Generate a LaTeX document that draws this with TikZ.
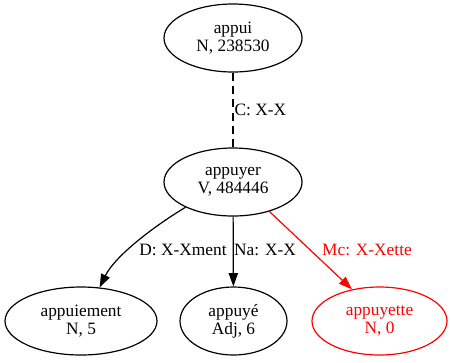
\documentclass[tikz,border=0pt]{standalone}
\usepackage{fontspec}
\setmainfont{Liberation Serif}
\usetikzlibrary{shapes.geometric,arrows.meta}
\tikzset{
	lex/.style={draw, ellipse, line width=0.9pt, inner sep=0pt, align=center,
		font=\fontsize{13}{13.5}\selectfont},
	rel/.style={line width=0.9pt, -{Triangle[length=10pt,width=7pt]}},
	lbl/.style={inner sep=1pt, font=\fontsize{13}{13.5}\selectfont}
}

\begin{document}
\begin{tikzpicture}[x=0.75pt, y=-0.75pt]
		%%%%% START %%%%%
		\useasboundingbox (0, 0) rectangle (452, 362);
		
		\node[lex, minimum width=138*0.75pt, minimum height=68*0.75pt] (appui) at (233, 38) {appui\\N, 238530};
		\node[lex, minimum width=138*0.75pt, minimum height=68*0.75pt] (appuyer) at (233, 182) {appuyer\\V, 484446};
		
		\node[lex, minimum width=152*0.75pt, minimum height=68*0.75pt] (appuiement) at (81, 321) {appuiement\\N, 5};
		\node[lex, minimum width=107*0.75pt, minimum height=68*0.75pt] (appuye) at (233.5, 321) {appuyé\\Adj, 6};
		\node[lex, red, minimum width=135*0.75pt, minimum height=68*0.75pt] (appuyette) at (379.5, 321) {appuyette\\N, 0};
		
		\draw[line width=0.9pt, dash pattern=on 6pt off 4pt] (appui) -- (appuyer);
		\node[lbl, anchor=west] (c) at (233, 110) {C: X-X};
		
		\draw[rel] (appuyer.208) .. controls (148, 230) and (114, 258) .. (appuiement.61);
		\node[lbl] (d) at (183, 250) {D: X-Xment};
		
		\draw[rel] (appuyer) -- (appuye);
		\node[lbl] (na) at (265, 250) {Na: X-X};
		
		\draw[rel, red] (appuyer.321) -- (appuyette.131);
		\node[lbl, red] (mc) at (367, 250) {Mc: X-Xette};
		
		%%%%% END %%%%%
	\end{tikzpicture}
\end{document}
